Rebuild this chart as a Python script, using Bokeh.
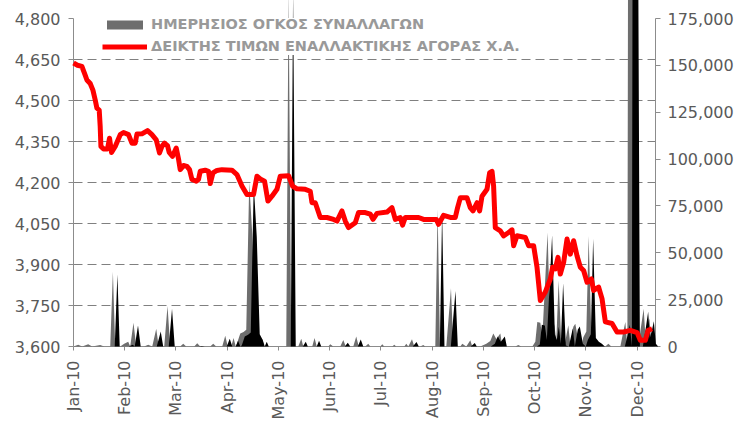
import math
from bokeh.plotting import figure
from bokeh.models import (Range1d, LinearAxis, FixedTicker, NumeralTickFormatter,
                          Legend, LegendItem)
from bokeh.embed import file_html
from bokeh.resources import INLINE

# ---- data (x in month units: 0 = Jan-10, 11 = Dec-10) ----
months = ["Jan-10", "Feb-10", "Mar-10", "Apr-10", "May-10", "Jun-10",
          "Jul-10", "Aug-10", "Sep-10", "Oct-10", "Nov-10", "Dec-10"]
month_pos = list(range(12))

index_x = [0.000, 0.078, 0.164, 0.228, 0.262, 0.326, 0.379, 0.424, 0.457, 0.502,
           0.521, 0.535, 0.586, 0.664, 0.703, 0.742, 0.814, 0.912, 0.976, 1.074,
           1.140, 1.205, 1.238, 1.335, 1.445, 1.531, 1.615, 1.679, 1.726, 1.777,
           1.835, 1.868, 1.933, 2.005, 2.050, 2.083, 2.148, 2.214, 2.265, 2.312,
           2.396, 2.440, 2.474, 2.571, 2.636, 2.669, 2.722, 2.800, 2.897, 3.093,
           3.190, 3.288, 3.385, 3.514, 3.581, 3.645, 3.729, 3.795, 3.874, 3.971,
           4.036, 4.198, 4.276, 4.362, 4.524, 4.621, 4.655, 4.719, 4.817, 4.947,
           5.076, 5.143, 5.240, 5.305, 5.369, 5.500, 5.564, 5.695, 5.793, 5.846,
           5.924, 6.119, 6.216, 6.281, 6.378, 6.423, 6.476, 6.736, 6.833, 7.081,
           7.126, 7.224, 7.355, 7.452, 7.497, 7.550, 7.681, 7.745, 7.798, 7.876,
           7.927, 7.974, 8.071, 8.122, 8.169, 8.200, 8.233, 8.331, 8.395, 8.493,
           8.559, 8.591, 8.657, 8.819, 8.883, 8.981, 9.047, 9.112, 9.209, 9.307,
           9.352, 9.405, 9.457, 9.502, 9.567, 9.633, 9.697, 9.762, 9.828, 9.893,
           9.957, 10.024, 10.108, 10.152, 10.250, 10.316, 10.381, 10.512, 10.609, 10.738,
           10.869, 11.000, 11.064, 11.162, 11.215, 11.293]
index_y = [4637, 4629, 4625, 4593, 4575, 4562, 4538, 4502, 4472, 4465,
           4405, 4332, 4323, 4323, 4362, 4310, 4332, 4375, 4383, 4375,
           4344, 4344, 4377, 4378, 4390, 4375, 4356, 4308, 4332, 4344,
           4335, 4310, 4296, 4326, 4286, 4247, 4262, 4259, 4247, 4211,
           4205, 4211, 4241, 4245, 4241, 4196, 4235, 4244, 4247, 4245,
           4229, 4187, 4156, 4156, 4223, 4213, 4205, 4132, 4150, 4175,
           4223, 4225, 4187, 4177, 4175, 4168, 4126, 4126, 4072, 4072,
           4065, 4059, 4096, 4059, 4035, 4053, 4090, 4090, 4084, 4065,
           4087, 4092, 4108, 4065, 4072, 4044, 4072, 4072, 4065, 4065,
           4047, 4080, 4072, 4072, 4108, 4144, 4144, 4108, 4096, 4126,
           4096, 4150, 4175, 4235, 4241, 4187, 4035, 4023, 4005, 4017,
           4027, 3969, 4005, 3999, 3969, 3969, 3890, 3768, 3799, 3847,
           3890, 3884, 3926, 3865, 3908, 3993, 3938, 3987, 3932, 3890,
           3878, 3835, 3847, 3805, 3817, 3775, 3690, 3684, 3653, 3653,
           3659, 3651, 3623, 3623, 3659, 3665]

vol_x = [0.000, 0.092, 0.170, 0.287, 0.365, 0.521, 0.599, 0.717, 0.769, 0.814,
         0.912, 0.990, 1.068, 1.107, 1.171, 1.224, 1.380, 1.458, 1.537, 1.615,
         1.663, 1.771, 1.835, 1.888, 2.083, 2.142, 2.200, 2.357, 2.415, 2.474,
         2.669, 2.727, 2.786, 2.903, 2.962, 3.011, 3.079, 3.124, 3.167, 3.196,
         3.255, 3.319, 3.372, 3.430, 3.489, 3.547, 3.606, 3.645, 3.684, 3.723,
         3.879, 4.153, 4.198, 4.250, 4.387, 4.446, 4.485, 4.660, 4.705, 4.748,
         4.973, 5.012, 5.070, 5.207, 5.266, 5.314, 5.461, 5.519, 5.568, 5.695,
         5.754, 5.793, 5.988, 6.027, 6.066, 6.222, 6.261, 6.300, 6.457, 6.496,
         6.535, 6.607, 6.652, 6.769, 6.827, 6.867, 7.062, 7.107, 7.153, 7.277,
         7.368, 7.413, 7.550, 7.589, 7.667, 7.745, 7.784, 7.940, 8.058, 8.136,
         8.194, 8.253, 8.331, 8.370, 8.624, 8.682, 8.741, 8.956, 9.014, 9.053,
         9.112, 9.151, 9.254, 9.307, 9.346, 9.385, 9.424, 9.469, 9.522, 9.580,
         9.658, 9.697, 9.756, 9.795, 9.854, 9.912, 9.951, 10.010, 10.055, 10.108,
         10.166, 10.225, 10.283, 10.381, 10.440, 10.498, 10.674, 10.732, 10.771, 10.811,
         10.827, 10.928, 10.967, 11.025, 11.064, 11.129, 11.162, 11.201, 11.240, 11.279,
         11.324]
vol_y = [0, 1000, 0, 1200, 0, 800, 0, 0, 39900, 0,
         0, 1500, 2500, 0, 12700, 0, 0, 1000, 0, 9500,
         0, 0, 21600, 0, 0, 1500, 0, 0, 1800, 0,
         0, 1500, 0, 0, 5700, 0, 0, 4600, 0, 2000,
         6900, 7800, 9000, 87500, 60000, 8000, 5000, 0, 4000, 0,
         0, 0, 190000, 0, 0, 4100, 0, 0, 4600, 0,
         0, 1200, 0, 0, 3500, 0, 0, 5300, 0, 0,
         1500, 0, 0, 1200, 0, 0, 1000, 0, 0, 1500,
         0, 3900, 0, 0, 800, 0, 0, 73200, 0, 0,
         31100, 0, 0, 1500, 0, 3400, 0, 0, 1500, 3000,
         6900, 4000, 6900, 0, 0, 800, 0, 0, 2600, 13100,
         12700, 5000, 60800, 8000, 5000, 12000, 3000, 35200, 2000, 0,
         11300, 1000, 10600, 12200, 3000, 0, 5000, 8000, 59000, 6000,
         4000, 3000, 0, 0, 1500, 0, 0, 8000, 13100, 0,
         250000, 250000, 0, 0, 8000, 20100, 6000, 10000, 15000, 3000,
         0]

legend_labels = ["ΗΜΕΡΗΣΙΟΣ ΟΓΚΟΣ ΣΥΝΑΛΛΑΓΩΝ",
                 "ΔΕΙΚΤΗΣ ΤΙΜΩΝ ΕΝΑΛΛΑΚΤΙΚΗΣ ΑΓΟΡΑΣ Χ.Α."]

# 3-D depth effect of the volume area (shifted dark face)
depth_dx = 0.088
depth_dy = 1500

FONT = "DejaVu Sans"
AX = "#8c8c8c"
LBL = "#595959"

p = figure(width=736, height=422, output_backend="svg", toolbar_location=None,
           x_range=Range1d(0, 11.36), y_range=Range1d(3600, 4800),
           min_border_left=73, min_border_right=81, min_border_top=18,
           min_border_bottom=74)
p.outline_line_color = None
p.background_fill_color = "white"

p.extra_y_ranges = {"vol": Range1d(0, 175000)}
right_axis = LinearAxis(y_range_name="vol",
                        ticker=FixedTicker(ticks=list(range(0, 175001, 25000))),
                        formatter=NumeralTickFormatter(format="0,0"))
p.add_layout(right_axis, "right")

p.yaxis[0].ticker = FixedTicker(ticks=list(range(3600, 4801, 150)))
p.yaxis[0].formatter = NumeralTickFormatter(format="0,0")
p.xaxis.ticker = FixedTicker(ticks=month_pos)
p.xaxis.major_label_overrides = {i: m for i, m in zip(month_pos, months)}
p.xaxis.major_label_orientation = math.pi / 2

for ax in [p.xaxis[0], p.yaxis[0], right_axis]:
    ax.axis_line_color = AX
    ax.major_tick_line_color = AX
    ax.minor_tick_line_color = None
    ax.major_tick_in = 0
    ax.major_tick_out = 5
    ax.major_label_text_font = FONT
    ax.major_label_text_font_size = "16px"
    ax.major_label_text_color = LBL
p.yaxis[0].major_label_standoff = 8
right_axis.major_label_standoff = 7
p.xaxis.major_tick_out = 4
p.xaxis.major_label_standoff = 10

p.xgrid.visible = False
p.ygrid.ticker = FixedTicker(ticks=list(range(3750, 4801, 150)))
p.ygrid.grid_line_color = "#808080"
p.ygrid.grid_line_dash = "9 5"
p.ygrid.grid_line_width = 1

gray = p.varea(x=vol_x, y1=0, y2=vol_y, fill_color="#6e6e6e",
               y_range_name="vol", level="overlay")
black_x = [x + depth_dx for x in vol_x]
black_y = [max(0, v - depth_dy) for v in vol_y]
p.varea(x=black_x, y1=0, y2=black_y, fill_color="black",
        y_range_name="vol", level="overlay")
red = p.line(index_x, index_y, line_color="#ff0000", line_width=5,
             line_join="round", level="overlay")

legend = Legend(items=[LegendItem(label=legend_labels[0], renderers=[gray]),
                       LegendItem(label=legend_labels[1], renderers=[red])],
                location=(29, 291), orientation="vertical",
                padding=2, margin=0, spacing=4,
                glyph_width=45, glyph_height=11, label_height=18,
                label_width=390, label_standoff=4,
                label_text_font=FONT, label_text_font_style="bold",
                label_text_font_size="14.5px", label_text_color="#999999",
                border_line_color=None, background_fill_color="white",
                background_fill_alpha=1.0)
p.add_layout(legend)

open("out.html", "w").write(file_html(p, INLINE))
